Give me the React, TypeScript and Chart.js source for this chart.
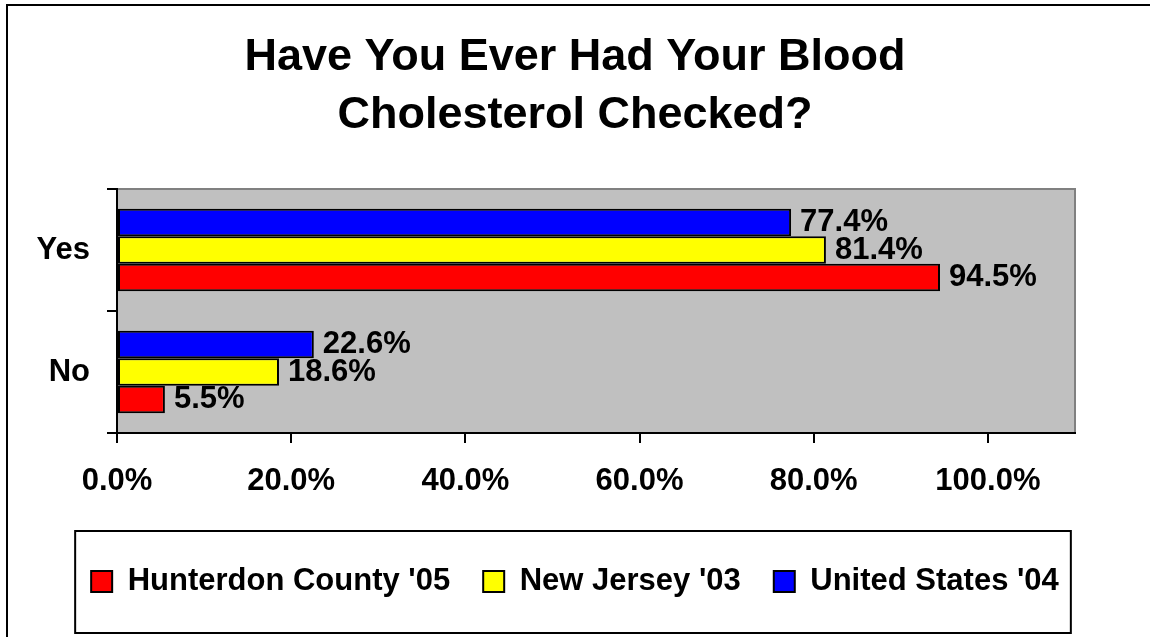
import React, { useEffect, useRef } from "react";
import { Chart, registerables } from "chart.js";

Chart.register(...registerables);

// ---- data ----
const categories = ["Yes", "No"];
const titleLines = ["Have You Ever Had Your Blood", "Cholesterol Checked?"];
const seriesNames = ["United States '04", "New Jersey '03", "Hunterdon County '05"];
const seriesColors = ["#0000FF", "#FFFF00", "#FF0000"];
const unitedStates04 = [77.4, 22.6];
const newJersey03 = [81.4, 18.6];
const hunterdon05 = [94.5, 5.5];
const xTickValues = [0, 20, 40, 60, 80, 100];
const xMax = 110;

const FONT = "'Liberation Sans', Arial, Helvetica, sans-serif";

const backgroundPlugin = {
  id: "bgFrame",
  beforeDraw(chart: any) {
    const { ctx, chartArea: a, width, height } = chart;
    ctx.save();
    ctx.fillStyle = "#FFFFFF";
    ctx.fillRect(0, 0, width, height);
    ctx.fillStyle = "#C0C0C0";
    ctx.fillRect(a.left, a.top, a.right - a.left, a.bottom - a.top);
    ctx.strokeStyle = "#808080";
    ctx.lineWidth = 2;
    ctx.beginPath();
    ctx.moveTo(a.left, a.top);
    ctx.lineTo(a.right, a.top);
    ctx.lineTo(a.right, a.bottom);
    ctx.stroke();
    ctx.strokeStyle = "#000000";
    ctx.beginPath();
    ctx.moveTo(7, height);
    ctx.lineTo(7, 5);
    ctx.lineTo(width, 5);
    ctx.stroke();
    ctx.restore();
  },
};

const valueLabelPlugin = {
  id: "valueLabels",
  afterDatasetsDraw(chart: any) {
    const { ctx } = chart;
    ctx.save();
    ctx.font = `bold 31px ${FONT}`;
    ctx.fillStyle = "#000000";
    ctx.textAlign = "left";
    ctx.textBaseline = "middle";
    chart.data.datasets.forEach((ds: any, i: number) => {
      const meta = chart.getDatasetMeta(i);
      meta.data.forEach((bar: any, j: number) => {
        const v = ds.data[j];
        ctx.fillText(`${Number(v).toFixed(1)}%`, bar.x + 9, bar.y);
      });
    });
    ctx.restore();
  },
};

const legendBoxPlugin = {
  id: "legendBox",
  afterDraw(chart: any) {
    const lg = chart.legend;
    if (!lg || !lg.legendHitBoxes || !lg.legendHitBoxes.length) return;
    const hb = lg.legendHitBoxes;
    let l = Infinity, r = -Infinity, t = Infinity, b = -Infinity;
    hb.forEach((h: any) => {
      l = Math.min(l, h.left);
      r = Math.max(r, h.left + h.width);
      t = Math.min(t, h.top);
      b = Math.max(b, h.top + h.height);
    });
    const { ctx } = chart;
    ctx.save();
    ctx.strokeStyle = "#000000";
    ctx.lineWidth = 2;
    ctx.strokeRect(l - 16, t - 35, r - l + 28, b - t + 71);
    ctx.restore();
  },
};

export default function App() {
  const canvasRef = useRef<HTMLCanvasElement | null>(null);

  useEffect(() => {
    document.body.style.margin = "0";
    const canvas = canvasRef.current;
    if (!canvas) return;
    const seriesData = [unitedStates04, newJersey03, hunterdon05];
    const chart = new Chart(canvas, {
      type: "bar",
      data: {
        labels: categories,
        datasets: seriesNames.map((name, i) => ({
          label: name,
          data: seriesData[i],
          backgroundColor: seriesColors[i],
          borderColor: "#000000",
          borderWidth: 2,
          borderSkipped: false,
          categoryPercentage: 0.676,
          barPercentage: 1.0,
        })),
      },
      options: {
        indexAxis: "y",
        responsive: false,
        animation: false,
        maintainAspectRatio: false,
        layout: { padding: { top: 10, left: 8, right: 8, bottom: 30 } },
        plugins: {
          tooltip: { enabled: false },
          title: {
            display: true,
            text: titleLines,
            color: "#000000",
            font: { family: FONT, size: 45, weight: "bold", lineHeight: 58 / 45 },
            padding: { top: 19, bottom: 44 },
          },
          legend: {
            display: true,
            position: "bottom",
            reverse: true,
            labels: {
              color: "#000000",
              font: { family: FONT, size: 31, weight: "bold" },
              boxWidth: 21,
              boxHeight: 21,
              padding: 33,
            },
          },
        },
        scales: {
          x: {
            type: "linear",
            min: 0,
            max: xMax,
            afterBuildTicks: (s: any) => {
              s.ticks = xTickValues.map((v) => ({ value: v }));
            },
            afterFit: (s: any) => {
              s.height = 100;
            },
            grid: {
              drawOnChartArea: false,
              drawTicks: true,
              tickLength: 10,
              color: "#000000",
              lineWidth: 2,
            },
            border: { display: true, color: "#000000", width: 2 },
            ticks: {
              color: "#000000",
              padding: 20,
              maxRotation: 0,
              font: { family: FONT, size: 31, weight: "bold" },
              callback: (v: any) => `${Number(v).toFixed(1)}%`,
            },
          },
          y: {
            type: "category",
            position: "left",
            afterFit: (s: any) => {
              s.width = 109;
            },
            grid: {
              offset: true,
              drawOnChartArea: false,
              drawTicks: true,
              tickLength: 10,
              color: "#000000",
              lineWidth: 2,
            },
            border: { display: true, color: "#000000", width: 2 },
            ticks: {
              color: "#000000",
              padding: 17,
              font: { family: FONT, size: 31, weight: "bold" },
            },
          },
          yRight: {
            type: "linear",
            axis: "y",
            position: "right",
            display: true,
            afterFit: (s: any) => {
              s.width = 67;
            },
            grid: { display: false },
            border: { display: false },
            ticks: { display: false },
          },
        },
      },
      plugins: [backgroundPlugin, valueLabelPlugin, legendBoxPlugin],
    } as any);
    return () => chart.destroy();
  }, []);

  return (
    <div style={{ position: "absolute", left: 0, top: 0, width: 1150, height: 637 }}>
      <canvas ref={canvasRef} width={1150} height={637} />
    </div>
  );
}
